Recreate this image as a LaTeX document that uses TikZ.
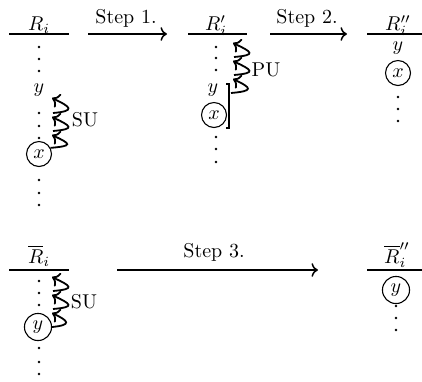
\documentclass[tikz,border=0pt]{standalone}
\usetikzlibrary{arrows.meta}
\begin{document}
\begin{tikzpicture}[x=0.5pt,y=-0.5pt,
  lbl/.style={inner sep=0pt,anchor=base},
  txt/.style={inner sep=0pt},
  bar/.style={line width=0.75pt},
  steparrow/.style={line width=0.75pt,->},
  wig/.style={line width=0.9pt,->},
  circ/.style={circle,draw,line width=0.55pt,inner sep=1.9pt},
]
\useasboundingbox (0,0) rectangle (422,381);
% ---------- top row ----------
\node[lbl] (R1) at (39,30.5) {$R_i$};
\coordinate (l1a) at (9,34); \coordinate (l1b) at (69,34);
\draw[bar] (l1a) -- (l1b);
\node[lbl] (R2) at (216,30.5) {$R_i'$};
\coordinate (l2a) at (188,34); \coordinate (l2b) at (247,34);
\draw[bar] (l2a) -- (l2b);
\node[lbl] (R3) at (398,30.5) {$R_i''$};
\coordinate (l3a) at (367,34); \coordinate (l3b) at (422,34);
\draw[bar] (l3a) -- (l3b);
% step arrows
\coordinate (s1a) at (88,34); \coordinate (s1b) at (167,34);
\draw[steparrow] (s1a) -- (s1b);
\node[lbl] (st1) at (126,23) {Step 1.};
\coordinate (s2a) at (270,34); \coordinate (s2b) at (347,34);
\draw[steparrow] (s2a) -- (s2b);
\node[lbl] (st2) at (307,23) {Step 2.};
% column 1
\foreach \yy in {47,59,71,113,126,138,180,193,205} \fill (39,\yy) circle[radius=0.7pt];
\node[txt] (y1) at (39,90) {$y$};
\node[circ] (x1) at (39,154) {$x$};
\coordinate (a1) at (52,135); \coordinate (b1) at (53,131);
\coordinate (a2) at (52,117); \coordinate (b2) at (53,113);
\coordinate (a3) at (52,98);
\draw[wig] (x1.28) .. controls +(23,-2) and +(19,9) .. (a1);
\draw[wig] (b1) .. controls +(23,-2) and +(19,9) .. (a2);
\draw[wig] (b2) .. controls +(23,-2) and +(19,9) .. (a3);
\node[txt] (su1) at (85,120) {SU};
% column 2
\foreach \yy in {47,58,70,137,149,162} \fill (216,\yy) circle[radius=0.7pt];
\node[txt] (y2) at (213,90) {$y$};
\node[circ] (x2) at (214,115) {$x$};
\coordinate (k1) at (226,84); \coordinate (k2) at (229,84);
\coordinate (k3) at (229,128); \coordinate (k4) at (226,128);
\draw[line width=0.6pt] (k1) -- (k2) -- (k3) -- (k4);
\coordinate (p0) at (231,93);
\coordinate (p1) at (233,79); \coordinate (q1) at (234,75);
\coordinate (p2) at (233,61); \coordinate (q2) at (234,57);
\coordinate (p3) at (233,43);
\draw[wig] (p0) .. controls +(23,-2) and +(19,9) .. (p1);
\draw[wig] (q1) .. controls +(23,-2) and +(19,9) .. (p2);
\draw[wig] (q2) .. controls +(23,-2) and +(19,9) .. (p3);
\node[txt] (pu) at (266,70) {PU};
% column 3
\node[txt] (y3) at (398,48) {$y$};
\node[circ] (x3) at (398,73) {$x$};
\foreach \yy in {97,109,121} \fill (398,\yy) circle[radius=0.7pt];
% ---------- bottom row ----------
\node[lbl] (R4) at (39,263) {$\overline{R}_i$};
\coordinate (l4a) at (9,270); \coordinate (l4b) at (69,270);
\draw[bar] (l4a) -- (l4b);
\node[lbl] (R5) at (397,263) {$\overline{R}_i''$};
\coordinate (l5a) at (367,270); \coordinate (l5b) at (422,270);
\draw[bar] (l5a) -- (l5b);
\coordinate (s3a) at (117,270); \coordinate (s3b) at (318,270);
\draw[steparrow] (s3a) -- (s3b);
\node[lbl] (st3) at (214,257) {Step 3.};
% bottom column 1
\foreach \yy in {281,293,305,348,362,374} \fill (39,\yy) circle[radius=0.7pt];
\node[circ] (y4) at (38,327) {$y$};
\coordinate (c1) at (52,313); \coordinate (d1) at (53,309);
\coordinate (c2) at (52,295); \coordinate (d2) at (53,291);
\coordinate (c3) at (52,277);
\draw[wig] (y4.east) .. controls +(20,-2) and +(17,8) .. (c1);
\draw[wig] (d1) .. controls +(23,-2) and +(19,9) .. (c2);
\draw[wig] (d2) .. controls +(23,-2) and +(19,9) .. (c3);
\node[txt] (su2) at (84,302) {SU};
% bottom column 3
\node[circ] (y5) at (396,290) {$y$};
\foreach \yy in {306,318,330} \fill (396,\yy) circle[radius=0.7pt];
\end{tikzpicture}
\end{document}
